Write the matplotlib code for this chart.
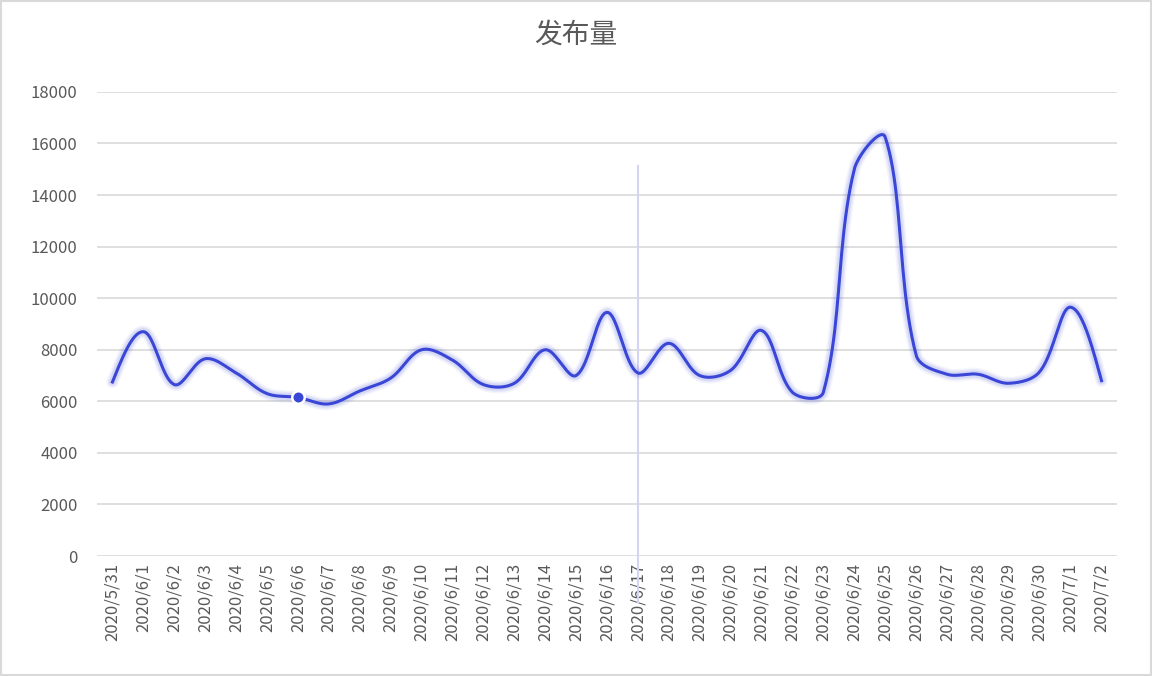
import matplotlib
matplotlib.use('Agg')
import matplotlib.pyplot as plt
import numpy as np

plt.rcParams['font.family'] = ['Noto Sans CJK SC', 'DejaVu Sans']

dates = ['2020/5/31', '2020/6/1', '2020/6/2', '2020/6/3', '2020/6/4', '2020/6/5',
         '2020/6/6', '2020/6/7', '2020/6/8', '2020/6/9', '2020/6/10', '2020/6/11',
         '2020/6/12', '2020/6/13', '2020/6/14', '2020/6/15', '2020/6/16', '2020/6/17',
         '2020/6/18', '2020/6/19', '2020/6/20', '2020/6/21', '2020/6/22', '2020/6/23',
         '2020/6/24', '2020/6/25', '2020/6/26', '2020/6/27', '2020/6/28', '2020/6/29',
         '2020/6/30', '2020/7/1', '2020/7/2']
volume = [6750, 8700, 6650, 7650, 7100, 6300, 6150, 5900, 6400, 6900, 8000, 7600,
          6650, 6700, 8000, 7000, 9450, 7100, 8250, 7000, 7200, 8750, 6350, 6350,
          15000, 16250, 7800, 7050, 7050, 6700, 7150, 9650, 6800]
highlight = '2020/6/6'
hover = '2020/6/17'

title = '发布量'
yticks = list(range(0, 18001, 2000))

LINE = '#3a46d6'
GRID = '#d9d9d9'
TEXT = '#595959'


def smooth(x, y, sx=30.94, sy=0.02578, f=0.35, n=24):
    # bezier smoothing with handles sized by neighbouring segment lengths (screen space)
    P = np.column_stack([np.asarray(x, float) * sx, np.asarray(y, float) * sy])
    m = len(P)
    cin = P.copy()
    cout = P.copy()
    for i in range(1, m - 1):
        T = P[i + 1] - P[i - 1]
        d0 = np.hypot(*(P[i] - P[i - 1]))
        d1 = np.hypot(*(P[i + 1] - P[i]))
        cin[i] = P[i] - T * f * d0 / (d0 + d1)
        cout[i] = P[i] + T * f * d1 / (d0 + d1)
    cout[0] = P[0] + (cin[1] - P[0]) * 0.5
    cin[-1] = P[-1] + (cout[-2] - P[-1]) * 0.5
    t = np.linspace(0, 1, n, endpoint=False)[:, None]
    pts = []
    for i in range(m - 1):
        a, b, c, d = P[i], cout[i], cin[i + 1], P[i + 1]
        pts.append((1 - t) ** 3 * a + 3 * (1 - t) ** 2 * t * b + 3 * (1 - t) * t ** 2 * c + t ** 3 * d)
    pts.append(P[-1:])
    pts = np.vstack(pts)
    return pts[:, 0] / sx, pts[:, 1] / sy


fig = plt.figure(figsize=(11.52, 6.76), dpi=100)
ax = fig.add_axes([0.0842, 0.1775, 0.8854, 0.6865])

x = np.arange(len(dates))
cx, cy = smooth(x, volume)

# soft glow under the line
for lw, a in [(9, 0.05), (7, 0.07), (5, 0.1)]:
    ax.plot(cx, cy, color=LINE, lw=lw, alpha=a, solid_capstyle='round', zorder=3)
ax.plot(cx, cy, color=LINE, lw=2.2, zorder=4)

hi = dates.index(highlight)
ax.plot(x[hi], volume[hi], 'o', ms=9, color=LINE, mec='white', mew=1.8, zorder=5)

hv = dates.index(hover)
ax.axvline(x[hv], ymin=-0.1, ymax=0.84, color='#d4d4f4', lw=1.5, zorder=2, clip_on=False)

ax.set_xlim(-0.5, len(dates) - 0.5)
ax.set_ylim(0, 18000)
ax.set_yticks(yticks)
ax.set_xticks(x)
ax.set_xticklabels(dates, rotation=90, fontsize=12, color=TEXT)
ax.tick_params(axis='y', labelsize=12, labelcolor=TEXT, length=0, pad=14)
ax.tick_params(axis='x', length=0, pad=5)
ax.grid(axis='y', color=GRID, lw=1.2)
ax.set_axisbelow(True)
for s in ax.spines.values():
    s.set_visible(False)

fig.text(0.5, 0.948, title, ha='center', va='center', fontsize=20, color=TEXT)

border = plt.Rectangle((0.001, 0.001), 0.998, 0.997, transform=fig.transFigure,
                       fill=False, ec='#d9d9d9', lw=1.5)
fig.patches.append(border)

fig.savefig('out.png', dpi=100)
